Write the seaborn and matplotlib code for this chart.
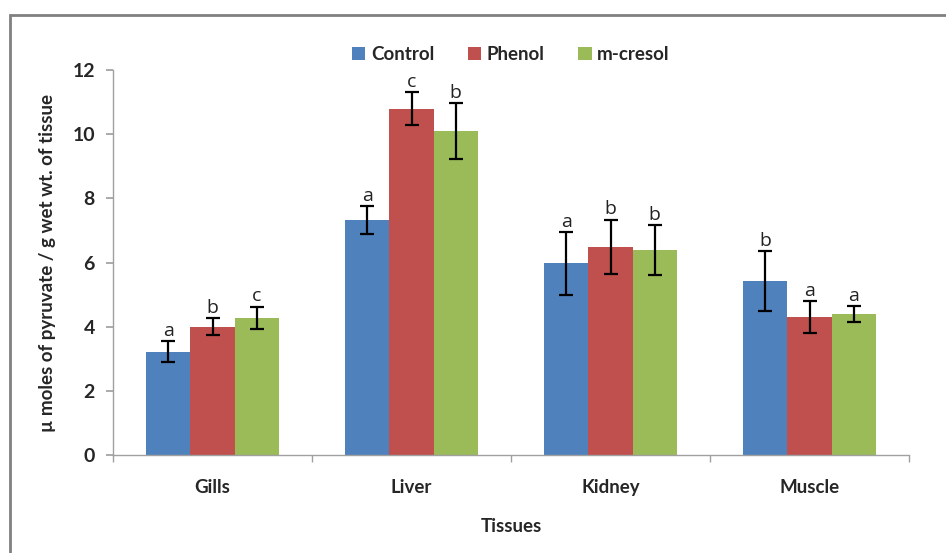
import matplotlib
matplotlib.use("Agg")
import matplotlib.pyplot as plt
import seaborn as sns
import pandas as pd
import numpy as np
from matplotlib.patches import Rectangle

tissues = ["Gills", "Liver", "Kidney", "Muscle"]
groups = ["Control", "Phenol", "m-cresol"]
control = [3.22, 7.33, 5.97, 5.42]
phenol = [4.00, 10.80, 6.49, 4.30]
mcresol = [4.27, 10.10, 6.39, 4.38]
control_err = [0.33, 0.43, 0.97, 0.93]
phenol_err = [0.26, 0.50, 0.85, 0.50]
mcresol_err = [0.35, 0.87, 0.78, 0.25]
control_lbl = ["a", "a", "a", "b"]
phenol_lbl = ["b", "c", "b", "a"]
mcresol_lbl = ["c", "b", "b", "a"]

values = [control, phenol, mcresol]
errs = [control_err, phenol_err, mcresol_err]
lbls = [control_lbl, phenol_lbl, mcresol_lbl]

rows = []
for g, vals in zip(groups, values):
    for t, v in zip(tissues, vals):
        rows.append({"Tissue": t, "Group": g, "Value": v})
df = pd.DataFrame(rows)

sns.set_theme(style="white")
plt.rcParams['font.family'] = ['Lato', 'DejaVu Sans']

fig = plt.figure(figsize=(9.46, 5.53), dpi=100)
ax = fig.add_axes([113/946, 1-455/553, (909-113)/946, (455-70)/553])

palette = ["#4F81BD", "#C0504D", "#9BBB59"]
sns.barplot(data=df, x="Tissue", y="Value", hue="Group", order=tissues,
            hue_order=groups, palette=palette, width=0.665, errorbar=None,
            saturation=1, ax=ax, legend=True, edgecolor="none", linewidth=0)

for cont, err, lb in zip(ax.containers, errs, lbls):
    xs = [p.get_x() + p.get_width()/2 for p in cont]
    hs = [p.get_height() for p in cont]
    ax.errorbar(xs, hs, yerr=err, fmt="none", ecolor="black", elinewidth=1.6,
                capsize=5, capthick=1.6, zorder=5)
    for x, h, e, l in zip(xs, hs, err, lb):
        ax.text(x, h + e + 0.04, l, ha="center", va="bottom", fontsize=14,
                color="#222222", family=['Open Sans', 'DejaVu Sans'])

ax.set_xlim(-0.5, 3.5)
ax.set_ylim(0, 12)
ax.set_yticks(range(0, 13, 2))
ax.set_yticklabels([str(v) for v in range(0, 13, 2)], fontsize=14, fontweight="bold")
ax.set_xticks(range(4))
ax.set_xticklabels(tissues, fontsize=13.5, fontweight="bold")
ax.set_xticks([-0.5, 0.5, 1.5, 2.5, 3.5], minor=True)
ax.tick_params(axis="x", which="major", length=0, pad=17)
ax.tick_params(axis="x", which="minor", length=5, color="#A0A0A0", direction="out", bottom=True)
ax.tick_params(axis="y", length=5, color="#A0A0A0", direction="out", left=True, pad=8)

for s in ["top", "right"]:
    ax.spines[s].set_visible(False)
for s in ["left", "bottom"]:
    ax.spines[s].set_color("#A0A0A0")
    ax.spines[s].set_linewidth(1.0)

ax.set_xlabel("Tissues", fontsize=13.5, fontweight="bold", labelpad=16)
ax.set_ylabel("\u00b5 moles of pyruvate / g wet wt. of tissue", fontsize=13.5,
              fontweight="bold", labelpad=12)

leg = ax.legend(loc="upper center", bbox_to_anchor=(0.5, 1.105), ncol=3, frameon=False,
                handlelength=0.7, handleheight=0.7, handletextpad=0.3,
                columnspacing=1.8, prop={"weight": "bold", "size": 13.5})

fig.patches.append(Rectangle((10/946, -0.1), 1.2, (553-15)/553 + 0.1, transform=fig.transFigure,
                             fill=False, edgecolor="#808080", linewidth=2))

fig.savefig("out.png", dpi=100)
